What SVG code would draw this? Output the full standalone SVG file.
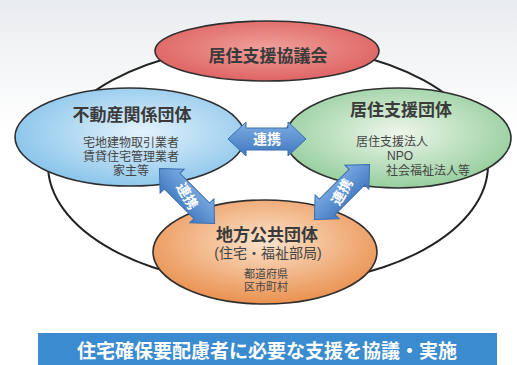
<svg xmlns="http://www.w3.org/2000/svg" width="517" height="365" viewBox="0 0 517 365">
<defs>
<linearGradient id="bg" x1="0" y1="0" x2="0" y2="1">
<stop offset="0" stop-color="#e9ecef"/>
<stop offset="0.35" stop-color="#ffffff"/>
</linearGradient>
<radialGradient id="gRed" cx="0.5" cy="0.45" r="0.6">
<stop offset="0" stop-color="#f0a09a"/>
<stop offset="1" stop-color="#dc5f5f"/>
</radialGradient>
<radialGradient id="gBlue" cx="0.55" cy="0.45" r="0.6">
<stop offset="0" stop-color="#e4f2fb"/>
<stop offset="1" stop-color="#86c3ea"/>
</radialGradient>
<radialGradient id="gGreen" cx="0.5" cy="0.45" r="0.6">
<stop offset="0" stop-color="#eef6ea"/>
<stop offset="1" stop-color="#8fcb98"/>
</radialGradient>
<radialGradient id="gOrange" cx="0.5" cy="0.4" r="0.6">
<stop offset="0" stop-color="#fbe3cc"/>
<stop offset="1" stop-color="#ea9150"/>
</radialGradient>
<linearGradient id="gArrow" x1="0" y1="0" x2="0" y2="1">
<stop offset="0" stop-color="#7eaee2"/>
<stop offset="1" stop-color="#3f78c0"/>
</linearGradient>
<path id="arrow" d="M-39,0 L-21,-17 L-21,-11 L21,-11 L21,-17 L39,0 L21,17 L21,11 L-21,11 L-21,17 Z"/>
<style>
.node{stroke:#2f2f2f;stroke-width:1.6}
.head{font-family:"Liberation Sans","Noto Sans CJK JP",sans-serif;font-size:17px;font-weight:bold;fill:#3a3a3a;text-anchor:middle}
.sub{font-family:"Liberation Sans","Noto Sans CJK JP",sans-serif;font-size:12px;fill:#444;text-anchor:middle}
.arr{fill:url(#gArrow);stroke:#3a6eb0;stroke-width:1}
.arrt{font-family:"Liberation Sans","Noto Sans CJK JP",sans-serif;font-size:14px;font-weight:bold;fill:#ffffff;text-anchor:middle}
</style>
</defs>
<rect x="0" y="0" width="517" height="365" fill="url(#bg)"/>
<g id="connectors">
<ellipse cx="268" cy="165" rx="220" ry="120" fill="#ffffff" stroke="#222" stroke-width="2"/>
</g>
<g id="node-kyogikai">
<ellipse class="node" cx="267" cy="51" rx="112" ry="30" fill="url(#gRed)"/>
<text class="head" x="268" y="62">居住支援協議会</text>
</g>
<g id="node-fudosan">
<ellipse class="node" cx="130" cy="137" rx="115" ry="49" fill="url(#gBlue)"/>
<text class="head" x="132" y="121">不動産関係団体</text>
<text class="sub" x="131" y="147">宅地建物取引業者</text>
<text class="sub" x="131" y="161">賃貸住宅管理業者</text>
<text class="sub" x="131" y="175">家主等</text>
</g>
<g id="node-shien">
<ellipse class="node" cx="398" cy="138" rx="113" ry="50" fill="url(#gGreen)"/>
<text class="head" x="401" y="116">居住支援団体</text>
<text class="sub" x="392" y="146">居住支援法人</text>
<text class="sub" x="400" y="160">NPO</text>
<text class="sub" x="428" y="175">社会福祉法人等</text>
</g>
<g id="node-chiho">
<ellipse class="node" cx="265" cy="252" rx="112" ry="52" fill="url(#gOrange)"/>
<text class="head" x="267" y="241">地方公共団体</text>
<text class="sub" x="268" y="258" style="font-size:14px">(住宅・福祉部局)</text>
<text class="sub" x="266" y="278" style="font-size:11px">都道府県</text>
<text class="sub" x="266" y="290.5" style="font-size:11px">区市町村</text>
</g>
<g id="arrow-h" transform="translate(267,139)">
<use href="#arrow" class="arr"/>
<text class="arrt" x="0" y="5">連携</text>
</g>
<g id="arrow-l" transform="translate(187,196) rotate(45)">
<use href="#arrow" class="arr"/>
<text class="arrt" x="0" y="5" transform="rotate(15)">連携</text>
</g>
<g id="arrow-r" transform="translate(342,192) rotate(-45)">
<use href="#arrow" class="arr"/>
<text class="arrt" x="0" y="5" transform="rotate(-15)">連携</text>
</g>
<g id="banner">
<rect x="38" y="333" width="459" height="32" fill="#3b8bd0"/>
<text x="267" y="358" style="font-family:'Liberation Sans','Noto Sans CJK JP',sans-serif;font-size:19px;font-weight:bold;fill:#ffffff;text-anchor:middle">住宅確保要配慮者に必要な支援を協議・実施</text>
</g>
</svg>
